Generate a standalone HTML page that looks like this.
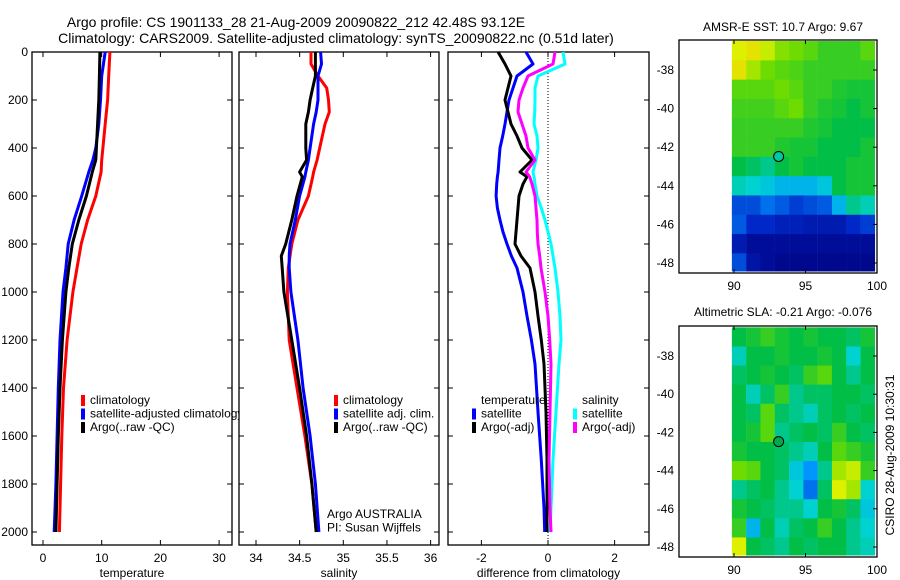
<!DOCTYPE html>
<html><head><meta charset="utf-8"><style>
html,body{margin:0;padding:0;background:#fff}
svg{display:block;font-family:"Liberation Sans",sans-serif}
text{font-size:12px;fill:#000}
</style></head><body>
<svg id="s" width="900" height="580" viewBox="0 0 900 580">
<text x="296" y="27" text-anchor="middle" style="font-size:14px">Argo profile: CS 1901133_28 21-Aug-2009 20090822_212 42.48S 93.12E</text>
<text x="336" y="43" text-anchor="middle" style="font-size:14px">Climatology: CARS2009. Satellite-adjusted climatology: synTS_20090822.nc (0.51d later)</text>
<text x="783" y="31" text-anchor="middle">AMSR-E SST: 10.7 Argo: 9.67</text>
<text x="783" y="316" text-anchor="middle">Altimetric SLA: -0.21 Argo: -0.076</text>
<text transform="translate(894,455) rotate(-90)" text-anchor="middle">CSIRO 28-Aug-2009 10:30:31</text>
<g id="g"></g>
</svg>
<script>
// depth levels (dbar)
const depthT = [0,100,200,300,400,450,500,600,700,800,900,1000,1200,1400,1600,1800,2000];
const tempClim = [11.4,11.2,11.0,10.6,10.2,10.0,9.9,9.0,7.6,6.5,5.8,5.1,4.1,3.5,3.2,3.0,2.8];
const tempSat  = [10.6,10.0,9.8,9.5,9.0,8.5,7.8,6.6,5.3,4.3,3.9,3.4,2.9,2.6,2.4,2.2,1.9];
const tempArgo = [9.7,9.6,9.5,9.3,9.1,9.0,8.4,7.4,6.1,5.0,4.4,3.9,3.3,2.9,2.6,2.4,2.2];
const depthS = [0,50,100,150,200,250,300,400,450,500,520,600,700,800,850,900,1000,1200,1400,1600,1800,2000];
const salClim = [34.63,34.63,34.71,34.81,34.83,34.84,34.79,34.73,34.70,34.66,34.65,34.60,34.48,34.41,34.39,34.37,34.36,34.38,34.47,34.56,34.64,34.69];
const salSat  = [34.74,34.75,34.71,34.71,34.71,34.69,34.66,34.62,34.60,34.57,34.56,34.50,34.45,34.39,34.38,34.38,34.40,34.48,34.54,34.62,34.68,34.72];
const salArgo = [34.68,34.68,34.68,34.65,34.62,34.60,34.57,34.57,34.58,34.50,34.53,34.47,34.41,34.34,34.29,34.30,34.32,34.41,34.50,34.58,34.64,34.69];
const depthD = [0,50,100,150,200,250,300,350,400,450,500,520,550,600,650,700,750,800,850,900,1000,1100,1200,1300,1500,1700,1900,2000];
const dTempSat  = [-0.66,-0.45,-0.93,-1.05,-1.17,-1.23,-1.29,-1.36,-1.44,-1.47,-1.50,-1.52,-1.54,-1.56,-1.52,-1.44,-1.35,-1.23,-1.10,-0.93,-0.75,-0.63,-0.50,-0.39,-0.30,-0.20,-0.12,-0.10];
const dTempArgo = [-1.50,-1.29,-1.11,-1.20,-1.29,-1.20,-1.11,-0.93,-0.78,-0.48,-0.84,-0.63,-0.75,-0.87,-0.90,-0.93,-0.96,-0.99,-0.81,-0.54,-0.39,-0.30,-0.20,-0.12,-0.06,-0.03,-0.03,-0.03];
const dSalSat   = [0.45,0.51,-0.30,-0.39,-0.39,-0.40,-0.42,-0.33,-0.30,-0.36,-0.45,-0.42,-0.39,-0.33,-0.20,-0.09,0.00,0.09,0.15,0.21,0.30,0.36,0.39,0.33,0.24,0.15,0.09,0.06];
const dSalArgo  = [0.21,0.15,-0.60,-0.75,-0.87,-0.90,-0.78,-0.66,-0.60,-0.39,-0.66,-0.55,-0.48,-0.39,-0.36,-0.33,-0.32,-0.30,-0.25,-0.21,-0.09,0.00,0.05,0.09,0.06,0.03,0.06,0.09];
const depthTicks = [0,200,400,600,800,1000,1200,1400,1600,1800,2000];
const tempTicks = [0,10,20,30];
const salTicks = [34,34.5,35,35.5,36];
const diffTicks = [-2,0,2];
const lonTicks = [90,95,100];
const latTicks = [-38,-40,-42,-44,-46,-48];
// map grids: rows lat -37..-48 (1 deg), cols lon 90..99 (1 deg); colour index 0..1
const sstGrid = [
[0.70,0.72,0.68,0.62,0.60,0.58,0.55,0.55,0.55,0.58],
[0.72,0.65,0.60,0.58,0.57,0.55,0.55,0.55,0.55,0.55],
[0.58,0.58,0.58,0.60,0.58,0.55,0.55,0.53,0.52,0.52],
[0.56,0.56,0.56,0.58,0.60,0.55,0.53,0.52,0.50,0.52],
[0.55,0.55,0.55,0.55,0.55,0.53,0.52,0.50,0.50,0.50],
[0.55,0.55,0.55,0.53,0.52,0.52,0.50,0.50,0.50,0.52],
[0.50,0.48,0.45,0.50,0.52,0.50,0.50,0.50,0.52,0.52],
[0.42,0.40,0.38,0.35,0.35,0.35,0.38,0.50,0.52,0.52],
[0.20,0.20,0.25,0.22,0.18,0.20,0.22,0.35,0.45,0.42],
[0.22,0.15,0.15,0.12,0.12,0.10,0.10,0.10,0.15,0.18],
[0.10,0.05,0.05,0.05,0.05,0.05,0.05,0.05,0.05,0.05],
[0.20,0.08,0.05,0.03,0.03,0.03,0.03,0.03,0.03,0.03]];
const slaGrid = [
[0.50,0.52,0.55,0.52,0.50,0.52,0.50,0.50,0.48,0.52],
[0.42,0.50,0.50,0.52,0.50,0.50,0.52,0.50,0.40,0.50],
[0.48,0.50,0.52,0.50,0.48,0.55,0.58,0.50,0.45,0.50],
[0.50,0.42,0.48,0.55,0.45,0.48,0.48,0.50,0.50,0.48],
[0.50,0.48,0.58,0.48,0.45,0.42,0.48,0.50,0.48,0.50],
[0.50,0.52,0.58,0.45,0.48,0.50,0.48,0.55,0.50,0.48],
[0.52,0.50,0.50,0.48,0.45,0.42,0.50,0.58,0.55,0.52],
[0.60,0.58,0.50,0.48,0.38,0.30,0.45,0.65,0.68,0.55],
[0.45,0.48,0.50,0.45,0.40,0.25,0.48,0.70,0.65,0.40],
[0.52,0.50,0.48,0.45,0.45,0.40,0.50,0.52,0.48,0.38],
[0.55,0.35,0.50,0.42,0.48,0.50,0.55,0.50,0.45,0.40],
[0.70,0.50,0.48,0.45,0.50,0.48,0.50,0.50,0.45,0.42]];

const NS='http://www.w3.org/2000/svg';
const G=document.getElementById('g');
function el(t,a,p){const e=document.createElementNS(NS,t);for(const k in a)e.setAttribute(k,a[k]);(p||G).appendChild(e);return e;}
const yD=d=>52+0.24*d;
const panels=[
 {x0:32,x1:232,sx:v=>43+5.87*v,ticks:tempTicks,title:'temperature',name:'temperature-panel',leftLabels:true},
 {x0:239,x1:439,sx:v=>256+87.3*(v-34),ticks:salTicks,title:'salinity',name:'salinity-panel'},
 {x0:448,x1:649,sx:v=>548+33.3*v,ticks:diffTicks,title:'difference from climatology',name:'difference-panel'}];
function line(p,xs,ys,col,w,name){
 const pts=xs.map((v,i)=>p.sx(v).toFixed(1)+','+yD(ys[i]).toFixed(1)).join(' ');
 const e=el('polyline',{points:pts,fill:'none',stroke:col,'stroke-width':w,'stroke-linejoin':'round'});
 
 
}
panels.forEach((p,pi)=>{
 const g=el('g',{});
 
 
 const r=el('rect',{x:p.x0,y:52,width:p.x1-p.x0,height:493,fill:'none',stroke:'#000','stroke-width':1.3},g);
 
 
 depthTicks.forEach(d=>{
  el('line',{x1:p.x0,x2:p.x0+5,y1:yD(d),y2:yD(d),stroke:'#000'},g);
  el('line',{x1:p.x1,x2:p.x1-5,y1:yD(d),y2:yD(d),stroke:'#000'},g);
  if(p.leftLabels){const t=el('text',{x:28,y:yD(d)+4,'text-anchor':'end'},g);t.textContent=d;
   
   }
 });
 p.ticks.forEach(v=>{const x=p.sx(v);
  el('line',{x1:x,x2:x,y1:545,y2:540,stroke:'#000'},g);
  el('line',{x1:x,x2:x,y1:52,y2:57,stroke:'#000'},g);
  const t=el('text',{x:x,y:562,'text-anchor':'middle'},g);t.textContent=v;
  
  });
 const t=el('text',{x:(p.x0+p.x1)/2,y:577,'text-anchor':'middle'},g);t.textContent=p.title;
 
 
});
const P=panels;
line(P[0],tempClim,depthT,'#f00',3,'temp-climatology-line');
line(P[0],tempSat,depthT,'#00f',3,'temp-satellite-line');
line(P[0],tempArgo,depthT,'#000',3,'temp-argo-line');
line(P[1],salClim,depthS,'#f00',3,'sal-climatology-line');
line(P[1],salSat,depthS,'#00f',3,'sal-satellite-line');
line(P[1],salArgo,depthS,'#000',3,'sal-argo-line');
const zl=el('line',{x1:P[2].sx(0),x2:P[2].sx(0),y1:52,y2:545,stroke:'#000','stroke-dasharray':'1,2'});


line(P[2],dTempSat,depthD,'#00f',3,'diff-temp-satellite-line');
line(P[2],dTempArgo,depthD,'#000',3,'diff-temp-argo-line');
line(P[2],dSalSat,depthD,'#0ff',3,'diff-sal-satellite-line');
line(P[2],dSalArgo,depthD,'#f0f',3,'diff-sal-argo-line');
// legends
const clipDef=el('clipPath',{id:'c1'});el('rect',{x:0,y:0,width:239,height:580},clipDef);
function legend(x,y,items,clip,name){
 const g=el('g',clip?{'clip-path':'url(#c1)'}:{});
 
 
 items.forEach((it,i)=>{const yy=y+i*13.5;
  if(it[1]){const b=el('rect',{x:x-9,y:yy-9,width:4,height:11,fill:it[1]},g);
   
   }
  const t=el('text',{x:x,y:yy},g);t.textContent=it[0];
  
  });
}
legend(90,404,[['climatology','#f00'],['satellite-adjusted climatology','#00f'],['Argo(..raw -QC)','#000']],true,'temperature-legend');
legend(343,404,[['climatology','#f00'],['satellite adj. clim.','#00f'],['Argo(..raw -QC)','#000']],false,'salinity-legend');
legend(481,404,[['temperature',null],['satellite','#00f'],['Argo(-adj)','#000']],false,'diff-temperature-legend');
legend(582,404,[['salinity',null],['satellite','#0ff'],['Argo(-adj)','#f0f']],false,'diff-salinity-legend');
legend(327,518,[['Argo AUSTRALIA',null],['PI: Susan Wijffels',null]],false,'pi-credit');
// colormap
const cstops=[[0,[0,0,128]],[0.15,[0,40,200]],[0.3,[0,150,255]],[0.4,[0,210,210]],[0.5,[0,190,70]],[0.6,[110,220,0]],[0.7,[220,240,0]],[0.8,[255,170,0]],[1,[255,60,0]]];
function cmap(v){for(let i=1;i<cstops.length;i++){if(v<=cstops[i][0]){const a=cstops[i-1],b=cstops[i],f=(v-a[0])/(b[0]-a[0]);return 'rgb('+a[1].map((c,k)=>Math.round(c+(b[1][k]-c)*f)).join(',')+')';}}return 'rgb(255,60,0)';}
function map(top,bot,grid,name){
 const lonX=l=>734+14.3*(l-90);
 const latY=la=>(top+30)+(bot-10-(top+30))*(( -38-la)/10);
 const g=el('g',{});
 
 
 grid.forEach((row,ri)=>row.forEach((v,ci)=>{
  const la=-37-ri, lo=90+ci;
  const y0=Math.max(top+1,latY(la+0.5)), y1=Math.min(bot-2,latY(la-0.5));
  const c=el('rect',{x:lonX(lo-0.15),y:y0,width:14.5,height:y1-y0+0.5,fill:cmap(v)},g);
  
  
 }));
 const fr=el('rect',{x:679,y:top,width:198,height:bot-top,fill:'none',stroke:'#000','stroke-width':1.3},g);
 
 
 lonTicks.forEach(l=>{const x=lonX(l);el('line',{x1:x,x2:x,y1:bot,y2:bot-4,stroke:'#000'},g);el('line',{x1:x,x2:x,y1:top,y2:top+4,stroke:'#000'},g);
  const t=el('text',{x:x,y:bot+17,'text-anchor':'middle'},g);t.textContent=l;
  
  });
 latTicks.forEach(la=>{const y=latY(la);el('line',{x1:877,x2:873,y1:y,y2:y,stroke:'#000'},g);
  const t=el('text',{x:674,y:y+4,'text-anchor':'end'},g);t.textContent=la;
  
  });
 const m=el('circle',{cx:lonX(93.12),cy:latY(-42.48),r:5,fill:name=='sst-map'?'#00c8a0':'#00a850',stroke:'#000'},g);
 
 
}
map(40,273,sstGrid,'sst-map');
map(326,557,slaGrid,'sla-map');
</script>
</body></html>
